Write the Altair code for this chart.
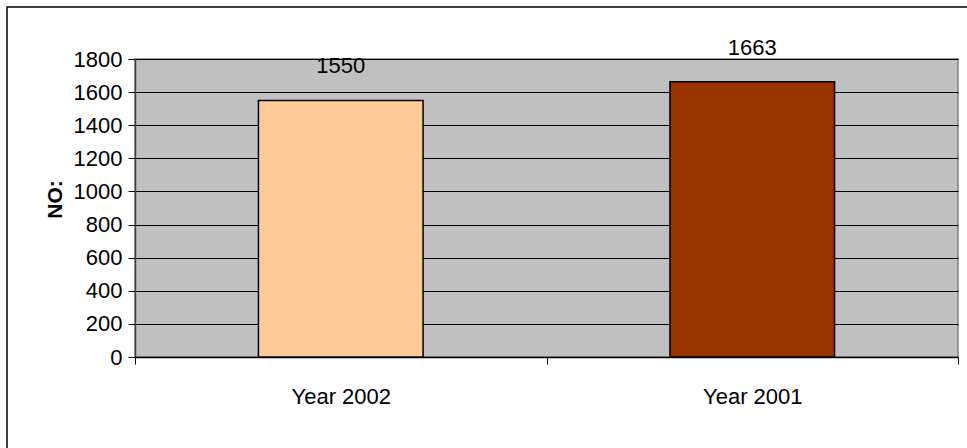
import altair as alt
import pandas as pd

# Number recorded per year
years = ["Year 2002", "Year 2001"]
counts = [1550, 1663]
bar_colors = ["#FFCC99", "#993300"]

df = pd.DataFrame({"year": years, "count": counts, "fill": bar_colors})

FONT = "Liberation Sans, Arial"

x_enc = alt.X(
    "year:N",
    sort=years,
    scale=alt.Scale(paddingInner=0, paddingOuter=0),
    axis=alt.Axis(
        title=None,
        tickBand="extent",
        grid=False,
        labelAngle=0,
        labelFont=FONT,
        labelFontSize=22,
        labelColor="black",
        labelPadding=22,
        tickSize=7,
        tickColor="black",
        domainColor="black",
        domainWidth=1.5,
    ),
)

y_enc = alt.Y(
    "count:Q",
    scale=alt.Scale(domain=[0, 1800], nice=False),
    axis=alt.Axis(
        values=list(range(0, 1801, 200)),
        format="d",
        title="NO:",
        titleFont=FONT,
        titleFontSize=21,
        titleFontWeight="bold",
        titleColor="black",
        titleAngle=-90,
        titleAlign="center",
        titleBaseline="middle",
        titleX=-80,
        titleY=140,
        labelFont=FONT,
        labelFontSize=22,
        labelColor="black",
        labelPadding=6,
        tickSize=7,
        tickColor="black",
        domainColor="#404040",
        domainWidth=1.5,
        grid=True,
        gridColor="black",
        gridWidth=1,
    ),
)

bars = alt.Chart(df).mark_bar(
    width={"band": 0.4}, stroke="black", strokeWidth=1.5
).encode(x=x_enc, y=y_enc, color=alt.Color("fill:N", scale=None, legend=None))

labels = alt.Chart(df).mark_text(
    baseline="alphabetic", dy=-27, font=FONT, fontSize=22, color="black"
).encode(x=x_enc, y=y_enc, text=alt.Text("count:Q", format="d"))

# Outer frame around the whole figure
frame = alt.Chart(pd.DataFrame({"k": [0]})).mark_rect(
    fill="transparent", stroke="black", strokeWidth=1.5
).encode(
    x=alt.value(-128), y=alt.value(-52), x2=alt.value(900), y2=alt.value(450)
)

chart = (
    alt.layer(bars, labels, frame)
    .properties(
        width=823,
        height=298,
        autosize=alt.AutoSizeParams(type="none"),
        padding={"left": 135, "top": 59, "right": 9, "bottom": 91},
        background="white",
    )
    .configure_view(fill="#C0C0C0", stroke="#808080", strokeWidth=1.5)
)

chart.save("out.html", embed_options={"renderer": "svg", "actions": False})
